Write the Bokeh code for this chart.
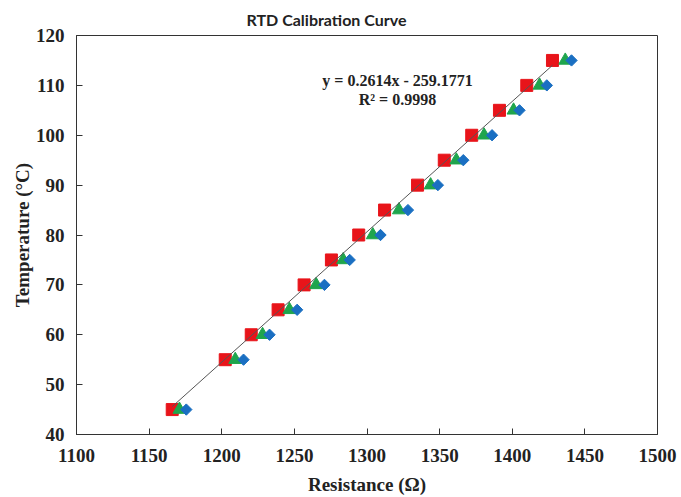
from bokeh.plotting import figure
from bokeh.models import FixedTicker, Range1d, Title, Label
from bokeh.embed import file_html
from bokeh.resources import INLINE

# Calibration temperatures (°C) and measured RTD resistances (Ω) for three runs
temps = [45, 55, 60, 65, 70, 75, 80, 85, 90, 95, 100, 105, 110, 115]
res_run1 = [1165.9, 1202.4, 1220.3, 1238.8, 1256.7, 1275.5, 1294.3,
            1312.1, 1334.8, 1353.2, 1372.1, 1391.2, 1410.0, 1427.7]
res_run2 = [1170.9, 1209.3, 1228.1, 1246.6, 1265.0, 1283.6, 1304.0,
            1322.0, 1343.8, 1361.5, 1380.6, 1400.9, 1418.8, 1436.5]
res_run3 = [1175.6, 1215.0, 1232.9, 1251.9, 1270.7, 1288.1, 1309.3,
            1328.2, 1348.8, 1366.3, 1386.1, 1405.0, 1423.8, 1440.8]

# Linear fit of run 1
slope = 0.2614
intercept = -259.1771
r_squared = 0.9998

x_ticks = [1100, 1150, 1200, 1250, 1300, 1350, 1400, 1450, 1500]
y_ticks = [40, 50, 60, 70, 80, 90, 100, 110, 120]

p = figure(width=681, height=497,
           x_range=Range1d(1100, 1500), y_range=Range1d(40, 120),
           output_backend="svg", toolbar_location=None,
           min_border_left=76, min_border_right=24,
           min_border_top=35, min_border_bottom=63)

p.add_layout(Title(text="RTD Calibration Curve", align="left", offset=170,
                   standoff=14,
                   text_font="Lato", text_font_size="16px",
                   text_font_style="bold", text_color="#222222"), "above")

p.grid.visible = False
p.outline_line_color = "#333333"
p.outline_line_width = 1
p.background_fill_color = "white"
p.border_fill_color = "white"

for ax in (p.xaxis[0], p.yaxis[0]):
    ax.major_label_text_font = "Liberation Serif"
    ax.major_label_text_font_style = "bold"
    ax.major_label_text_font_size = "19px"
    ax.major_label_text_color = "#222222"
    ax.axis_label_text_font = "Liberation Serif"
    ax.axis_label_text_font_style = "bold"
    ax.axis_label_text_font_size = "19px"
    ax.axis_label_text_color = "#222222"
    ax.major_tick_in = 6
    ax.major_tick_out = 0
    ax.minor_tick_line_color = None
    ax.axis_line_color = "#333333"
    ax.major_tick_line_color = "#333333"

p.xaxis.ticker = FixedTicker(ticks=x_ticks)
p.yaxis.ticker = FixedTicker(ticks=y_ticks)
p.xaxis.axis_label = "Resistance (Ω)"
p.yaxis.axis_label = "Temperature (°C)"
p.xaxis.major_label_standoff = 14
p.yaxis.major_label_standoff = 12
p.xaxis.axis_label_standoff = 9
p.yaxis.axis_label_standoff = 0

# Runs 1-3
p.scatter(res_run1, temps, marker="square", size=12,
          fill_color="#e8141a", line_color="#e8141a")
p.scatter(res_run2, temps, marker="triangle", size=13,
          fill_color="#1fa54d", line_color="#1fa54d")
p.scatter(res_run3, temps, marker="square", size=8, angle=0.785398,
          fill_color="#1a6fc2", line_color="#1a6fc2")

# Trendline over the span of run 1
x_fit = [min(res_run1), max(res_run1)]
y_fit = [slope * x + intercept for x in x_fit]
p.line(x_fit, y_fit, line_color="#555555", line_width=1)

p.add_layout(Label(x=1321, y=111.0,
                   text=f"y = {slope:.4f}x - {abs(intercept):.4f}",
                   text_align="center", text_baseline="middle",
                   text_font="Liberation Serif", text_font_style="bold",
                   text_font_size="16px", text_color="#222222"))
p.add_layout(Label(x=1321, y=107.1,
                   text=f"R² = {r_squared:.4f}",
                   text_align="center", text_baseline="middle",
                   text_font="Liberation Serif", text_font_style="bold",
                   text_font_size="16px", text_color="#222222"))

open("out.html", "w").write(file_html(p, INLINE))
